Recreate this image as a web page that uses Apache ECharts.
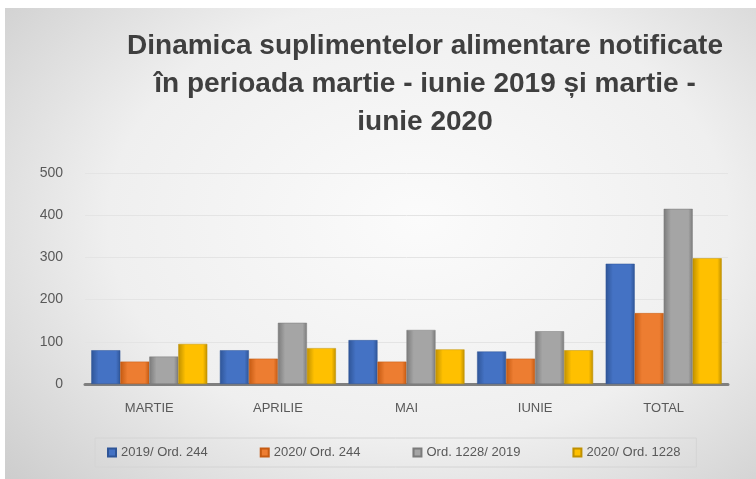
<!DOCTYPE html>
<html>
<head>
<meta charset="utf-8">
<script src="https://cdn.jsdelivr.net/npm/echarts@6/dist/echarts.min.js"></script>
<style>
  html, body { margin: 0; padding: 0; background: #fff; }
  #chart {
    position: absolute; left: 5px; top: 8px; width: 751px; height: 471px;
    background: radial-gradient(ellipse 75% 85% at 55% 45%, #fbfbfb 0%, #efefef 55%, #cbcbcb 100%);
  }
</style>
</head>
<body>
<div id="chart"></div>
<script>
const categories = ['MARTIE', 'APRILIE', 'MAI', 'IUNIE', 'TOTAL']
const seriesNames = ['2019/ Ord. 244', '2020/ Ord. 244', 'Ord. 1228/ 2019', '2020/ Ord. 1228']
const ord244y2019 = [80, 80, 104, 77, 285]
const ord244y2020 = [53, 60, 53, 60, 168]
const ord1228y2019 = [65, 145, 128, 125, 415]
const ord1228y2020 = [95, 85, 82, 80, 298]
const yTicks = [0, 100, 200, 300, 400, 500]

const colors = ['#4472C4', '#ED7D31', '#A5A5A5', '#FFC000']
const darker = ['#2F5597', '#C55A11', '#7B7B7B', '#BF9000']
const font = 'Liberation Sans Narrow, Liberation Sans, Arial'

const chart = echarts.init(document.getElementById('chart'))

function shade(i) {
  return {
    type: 'linear', x: 0, y: 0, x2: 1, y2: 0,
    colorStops: [
      { offset: 0, color: darker[i] },
      { offset: 0.25, color: colors[i] },
      { offset: 0.85, color: colors[i] },
      { offset: 1, color: darker[i] },
    ],
  }
}

const values = [ord244y2019, ord244y2020, ord1228y2019, ord1228y2020]

chart.setOption({
  animation: false,
  title: {
    text: 'Dinamica suplimentelor alimentare notificate\nîn perioada martie - iunie 2019 și martie -\niunie 2020',
    left: 415,
    top: 14,
    textAlign: 'center',
    textStyle: {
      fontFamily: font,
      fontSize: 28,
      fontWeight: 'bold',
      color: '#3f3f3f',
      lineHeight: 38,
    },
  },
  legend: {
    data: seriesNames,
    bottom: 12,
    left: 90,
    itemWidth: 8,
    itemHeight: 8,
    itemGap: 52,
    icon: 'rect',
    borderColor: '#d4d4d4',
    borderWidth: 1,
    padding: [8, 16, 8, 12],
    textStyle: { color: '#595959', fontSize: 13, fontFamily: font },
  },
  grid: { left: 80, right: 28, top: 165, bottom: 95 },
  xAxis: {
    type: 'category',
    data: categories,
    axisLine: { lineStyle: { color: '#7f7f7f', width: 3 } },
    axisTick: { show: false },
    axisLabel: { color: '#595959', fontSize: 13, margin: 18, fontFamily: font },
  },
  yAxis: {
    type: 'value',
    min: yTicks[0],
    max: yTicks[yTicks.length - 1],
    interval: 100,
    axisLine: { show: false },
    axisTick: { show: false },
    splitLine: { lineStyle: { color: '#e4e4e4' } },
    axisLabel: { color: '#595959', fontSize: 14, margin: 22, fontFamily: font },
  },
  series: seriesNames.map((name, i) => ({
    name,
    type: 'bar',
    data: values[i],
    barWidth: 29,
    barGap: '0%',
    itemStyle: { color: shade(i), borderColor: darker[i], borderWidth: 0.5 },
  })),
  color: colors,
})
</script>
</body>
</html>
